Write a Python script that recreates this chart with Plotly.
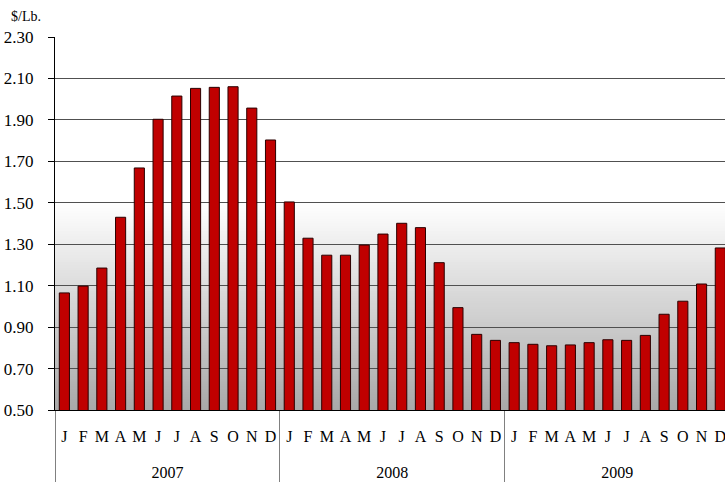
import plotly.graph_objects as go

years = ["2007", "2008", "2009"]
month_labels = ["J", "F", "M", "A", "M", "J", "J", "A", "S", "O", "N", "D"]

prices_2007 = [1.065, 1.098, 1.185, 1.430, 1.668, 1.903, 2.015, 2.052, 2.057, 2.060, 1.957, 1.803]
prices_2008 = [1.504, 1.329, 1.247, 1.247, 1.296, 1.349, 1.401, 1.380, 1.211, 0.994, 0.865, 0.836]
prices_2009 = [0.825, 0.817, 0.810, 0.814, 0.825, 0.839, 0.836, 0.860, 0.962, 1.025, 1.108, 1.282]

y_ticks = [0.50, 0.70, 0.90, 1.10, 1.30, 1.50, 1.70, 1.90, 2.10, 2.30]

# unique month keys (multicategory needs unique pairs); zero-width spaces keep the look.
# an invisible taller second line pushes the year row further down, as in the reference
month_keys = []
seen = {}
for m in month_labels:
    k = seen.get(m, 0)
    month_keys.append(m + "\u200b" * k + "<br><span style='font-size:42px'> </span>")
    seen[m] = k + 1

x_year = []
x_month = []
for yr in years:
    for mk in month_keys:
        x_year.append(yr)
        x_month.append(mk)
values = prices_2007 + prices_2008 + prices_2009

SERIF = "Liberation Serif"

fig = go.Figure()
fig.add_trace(go.Bar(
    x=[x_year, x_month],
    y=values,
    marker=dict(color="#c00000", line=dict(color="#2a0000", width=1)),
    hoverinfo="y",
))

# background gradient (white at ~1.50 to gray at 0.50): nested rects, lightest/largest first
shapes = []
n = 80
g_lo, g_hi = 0.50, 1.50
c_lo, c_hi = 168, 255
for i in range(n):
    top = g_hi - (g_hi - g_lo) * i / n
    c = int(round(c_hi - (c_hi - c_lo) * (i + 0.5) / n))
    shapes.append(dict(type="rect", xref="x domain", yref="y", x0=0, x1=1, y0=g_lo, y1=top,
                       fillcolor=f"rgb({c},{c},{c})", line=dict(width=0), layer="below"))

fig.update_layout(
    width=725, height=491,
    margin=dict(l=55, r=0, t=37, b=81),
    paper_bgcolor="white",
    plot_bgcolor="white",
    bargap=0.46,
    showlegend=False,
    shapes=shapes,
    font=dict(family=SERIF, size=15, color="black"),
    xaxis=dict(
        type="multicategory",
        range=[-0.5, 35.25],
        tickmode="linear", tick0=0, dtick=1,
        tickangle=0,
        automargin=False,
        showgrid=False,
        ticks="",
        ticklabelstandoff=12,
        showline=True, linecolor="black", linewidth=1,
        showdividers=True, dividercolor="#808080", dividerwidth=1,
        tickfont=dict(family=SERIF, size=16, color="black"),
    ),
    yaxis=dict(
        range=[0.5, 2.3],
        tickvals=y_ticks,
        ticktext=[f"{v:.2f}" for v in y_ticks],
        ticks="outside", ticklen=6, tickcolor="black",
        ticklabelstandoff=11,
        automargin=False,
        showline=True, linecolor="black", linewidth=1,
        showgrid=True, gridcolor="#505050", gridwidth=1,
        zeroline=False,
        tickfont=dict(family=SERIF, size=17, color="black"),
    ),
    annotations=[dict(text="$/Lb.", xref="paper", yref="paper", x=-0.068, y=1.03,
                      xanchor="left", yanchor="bottom", showarrow=False,
                      font=dict(family=SERIF, size=14, color="black"))],
)

fig.write_html("out.html", config={"displayModeBar": False},
               post_script="document.body.style.margin='0';")
